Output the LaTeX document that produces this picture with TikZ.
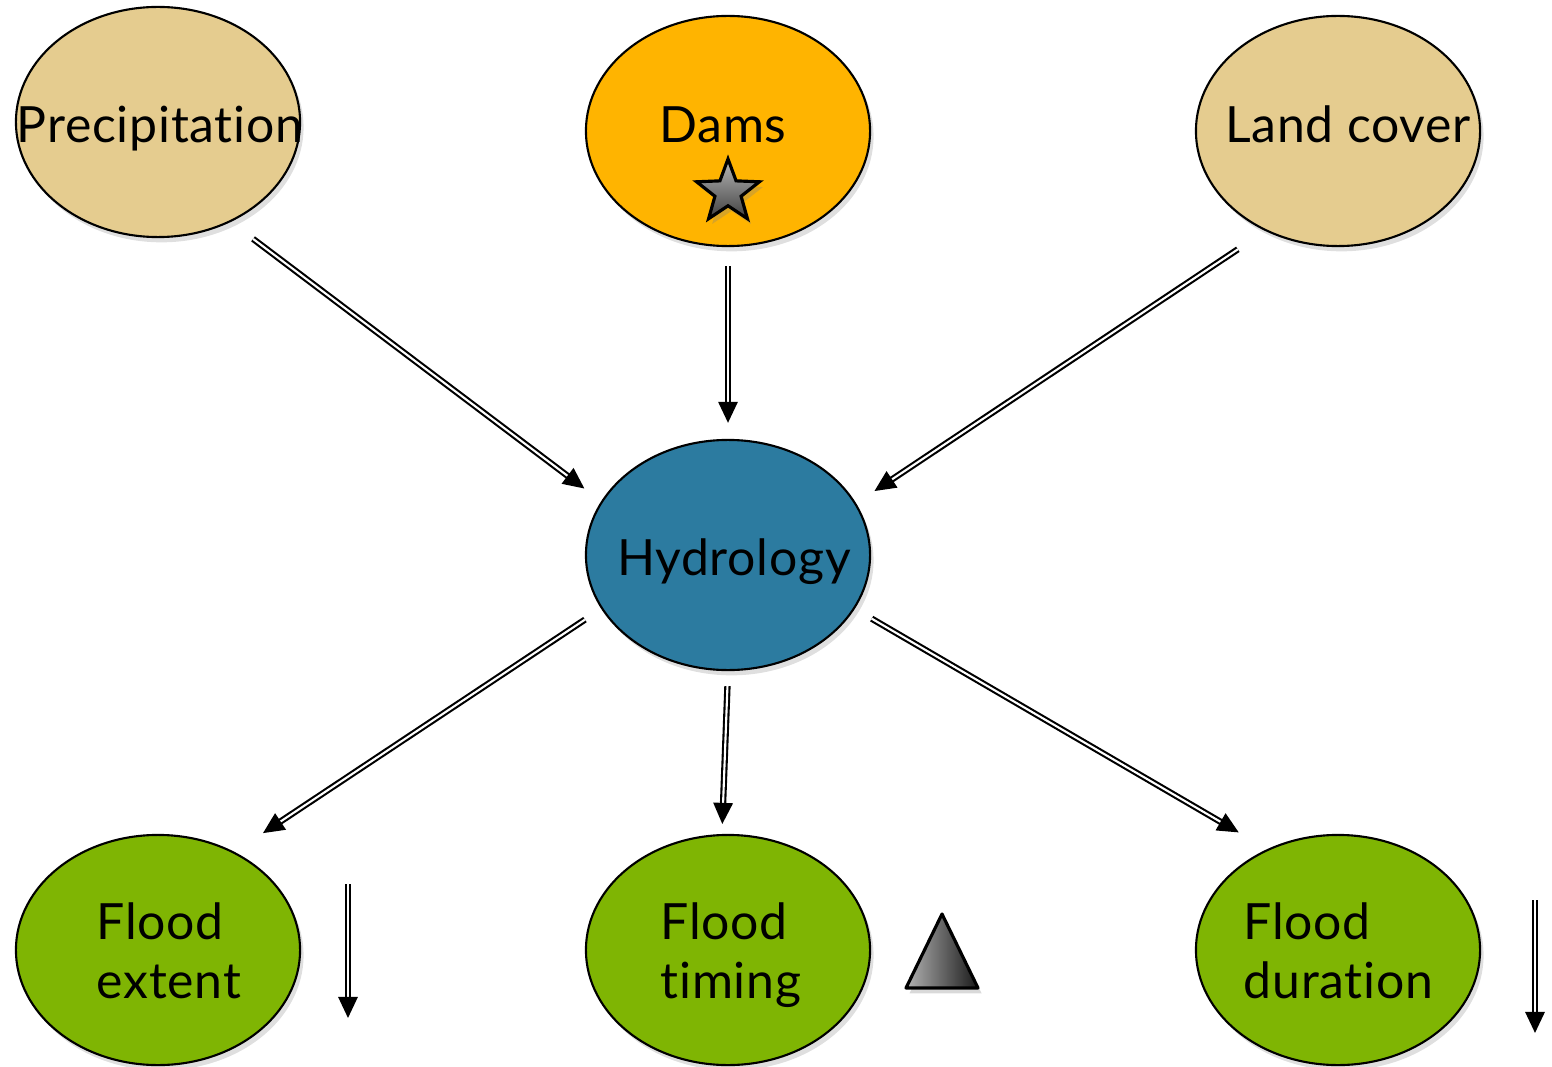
\documentclass[tikz,border=0pt]{standalone}
\usepackage{fontspec}
\setmainfont{Lato}[Ligatures=NoCommon, LetterSpace=1.5]
\usetikzlibrary{positioning}
\usetikzlibrary{shapes.geometric, shadows, arrows.meta}
\definecolor{sand}{RGB}{229,204,143}
\definecolor{damorange}{RGB}{255,180,0}
\definecolor{hydroblue}{RGB}{44,123,160}
\definecolor{floodgreen}{RGB}{127,181,3}
\begin{document}
\begin{tikzpicture}[x=0.01cm, y=-0.01cm,
  blob/.style={ellipse, draw, line width=0.6pt, minimum width=2.84cm, minimum height=2.30cm,
    inner sep=0pt, drop shadow={opacity=0.25, shadow xshift=1pt, shadow yshift=-1.5pt}},
  lbl/.style={font=\fontsize{14.2}{16.5}\selectfont, inner sep=0pt},
  dbl/.style={double, double distance=0.6pt, line width=0.6pt, -{Triangle[length=6pt,width=5.5pt]}}]
  \useasboundingbox (0,0) rectangle (1552,1067);

  % drivers
  \node[blob, fill=sand] (prec) at (158,122) {};
  \node[blob, fill=damorange] (dams) at (728,131) {};
  \node[blob, fill=sand] (land) at (1338,131) {};
  \node[blob, fill=hydroblue] (hydro) at (728,555) {};
  % responses
  \node[blob, fill=floodgreen] (extent) at (158,950) {};
  \node[blob, fill=floodgreen] (timing) at (728,950) {};
  \node[blob, fill=floodgreen] (duration) at (1338,950) {};

  \node[lbl, anchor=base] (prectxt) at (160,143) {Precipitation};
  \node[lbl, anchor=base] (damstxt) at (723,143) {Dams};
  \node[lbl, anchor=base] (landtxt) at (1348,143) {Land cover};
  \node[lbl, anchor=base] (hydrotxt) at (734,575) {Hydrology};
  \node[lbl, anchor=base west, align=left] (extenttxt) at (96,998) {Flood\\extent};
  \node[lbl, anchor=base west, align=left] (timingtxt) at (660,998) {Flood\\timing};
  \node[lbl, anchor=base west, align=left] (durationtxt) at (1243,998) {Flood\\duration};

  \node[star, star points=5, star point ratio=2.4, minimum size=0.66cm, inner sep=0pt, draw,
    line width=0.9pt, top color=gray!55, bottom color=black!75,
    drop shadow={opacity=0.3, shadow xshift=1pt, shadow yshift=-1.5pt}] (damstar) at (728,192) {};

  % links
  \draw[dbl, shorten <=0.28cm, shorten >=0.21cm] (prec.-54) -- (hydro.157.5);
  \draw[dbl, shorten <=0.19cm, shorten >=0.16cm] (dams.south) -- (hydro.north);
  \draw[dbl, shorten <=0.33cm, shorten >=0.22cm] (land.-126.3) -- (hydro.22.8);
  \draw[dbl, shorten <=0.195cm, shorten >=0.34cm] (hydro.-157.1) -- (extent.52.1);
  \draw[dbl, shorten <=0.15cm, shorten >=0.10cm] (hydro.south) -- (timing.93);
  \draw[dbl, shorten <=0.195cm, shorten >=0.33cm] (hydro.-23.4) -- (duration.125.7);

  % trends
  \coordinate (extenttop) at (348,884);
  \coordinate (extentbot) at (348,1018);
  \draw[dbl] (extenttop) -- (extentbot);
  \coordinate (durationtop) at (1535,900);
  \coordinate (durationbot) at (1535,1033);
  \draw[dbl] (durationtop) -- (durationbot);
  \draw[line width=0.9pt, line join=round, left color=gray!60, right color=black!90,
    drop shadow={opacity=0.3, shadow xshift=1pt, shadow yshift=-1.5pt}]
    (942,914) -- (906,988) -- (978,988) -- cycle;
\end{tikzpicture}
\end{document}
